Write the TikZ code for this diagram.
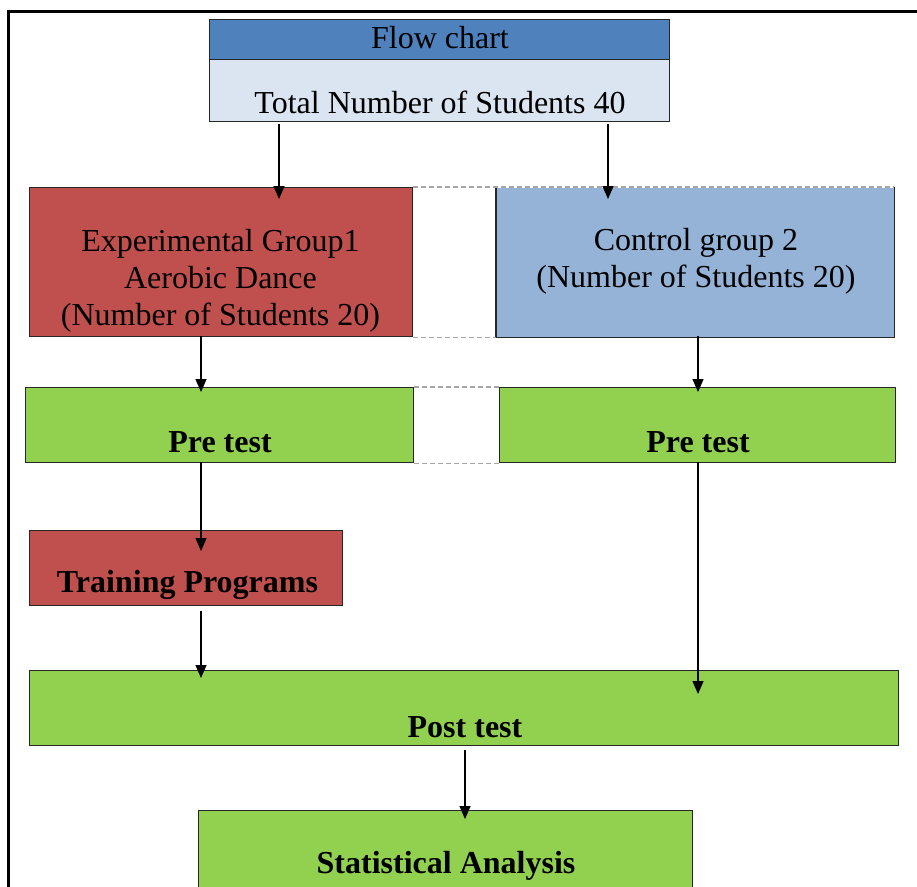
\documentclass[tikz,border=0pt]{standalone}
\usepackage{fontspec}
\setmainfont{Liberation Serif}
\usetikzlibrary{arrows.meta}
\definecolor{hdark}{HTML}{4F81BD}
\definecolor{hlight}{HTML}{DBE5F1}
\definecolor{cred}{HTML}{C0504D}
\definecolor{cblue}{HTML}{95B3D7}
\definecolor{cgreen}{HTML}{92D050}
\definecolor{dashgray}{HTML}{A6A6A6}
\tikzset{
  box/.style={draw=black!85, line width=1.3pt, inner sep=0pt, anchor=north west},
  lbl/.style={font=\fontsize{32}{37}\selectfont, align=center, inner sep=0pt},
  blbl/.style={font=\bfseries\fontsize{32}{37}\selectfont, inner sep=0pt},
  arr/.style={line width=1.3pt, -{Triangle[length=13pt,width=11pt]}},
  dsh/.style={draw=dashgray, line width=1.2pt, dash pattern=on 5pt off 3pt},
  edge/.style={draw=black!85, line width=1.3pt},
}
\begin{document}
\begin{tikzpicture}[x=1pt,y=-1pt]
\useasboundingbox (0,0) rectangle (917,886);
% frame
\draw[line width=3pt] (8,900) -- (8,11) -- (930,11);
% header
\node[box, fill=hdark, minimum width=460pt, minimum height=40pt] (hd) at (209,19) {};
\node[box, fill=hlight, minimum width=460pt, minimum height=62pt] (hl) at (209,59) {};
\node[lbl] (thd) at (440,38) {Flow chart};
\node[lbl] (thl) at (440,102) {Total Number of Students 40};
% groups
\node[box, fill=cred, minimum width=383pt, minimum height=149pt] (exp) at (29,187) {};
\node[box, draw=none, fill=cblue, minimum width=397pt, minimum height=149pt] (ctl) at (496,187) {};
\draw[edge] (ctl.north west) -- (ctl.south west) -- (ctl.south east) -- (ctl.north east);
\node[lbl] (texp) at (220.5,281) {Experimental Group1\\Aerobic Dance\\(Number of Students 20)};
\node[lbl] (tctl) at (696,261.5) {Control group 2\\(Number of Students 20)};
\draw[dsh] (exp.north east) -- (ctl.north east);
\draw[dsh] (exp.south east) -- (ctl.south west);
% pre tests
\node[box, fill=cgreen, minimum width=388pt, minimum height=75pt] (pre1) at (25,387) {};
\node[box, fill=cgreen, minimum width=396pt, minimum height=75pt] (pre2) at (499,387) {};
\node[blbl] (tpre1) at (220,442) {Pre test};
\node[blbl] (tpre2) at (698,442) {Pre test};
\draw[dsh] (pre1.north east) -- (pre2.north west);
\draw[dsh] (pre1.south east) -- (pre2.south west);
% training
\node[box, fill=cred, minimum width=313pt, minimum height=75pt] (trn) at (29,530) {};
\node[blbl] (ttrn) at (187.5,585) {Training Programs};
% post test
\node[box, fill=cgreen, minimum width=869pt, minimum height=75pt] (post) at (29,670) {};
\node[blbl] (tpost) at (465,727) {Post test};
% statistical
\node[box, fill=cgreen, minimum width=494pt, minimum height=90pt] (stat) at (198,810) {};
\node[blbl] (tstat) at (446,866) {Statistical Analysis};
% arrows
\coordinate (a1s) at (279,124); \coordinate (a1e) at (279,199);
\coordinate (a2s) at (608,124); \coordinate (a2e) at (608,199);
\draw[arr] (a1s) -- (a1e);
\draw[arr] (a2s) -- (a2e);
\draw[arr] (201,336) -- (201,392);
\draw[arr] (698,336) -- (698,392);
\draw[arr] (201,462) -- (201,551);
\draw[arr] (201,611) -- (201,678);
\draw[arr] (698,462) -- (698,694);
\draw[arr] (465,750) -- (465,819);
\end{tikzpicture}
\end{document}
